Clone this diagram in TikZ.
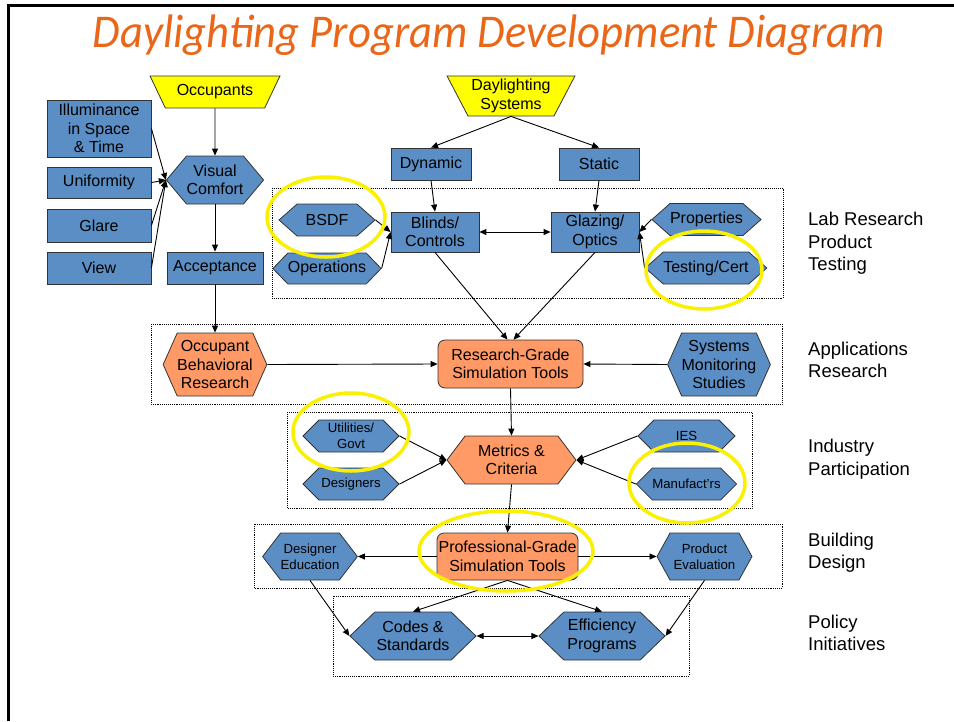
\documentclass[tikz,border=0pt]{standalone}
\usepackage{fontspec}
\setmainfont{Liberation Sans}
\newfontfamily\titlefont{Carlito}
\usetikzlibrary{shapes.geometric,shapes.symbols,arrows.meta}
\definecolor{boxblue}{RGB}{91,142,196}
\definecolor{boxorange}{RGB}{255,153,102}
\definecolor{boxyellow}{RGB}{255,255,0}
\definecolor{titleorange}{RGB}{234,102,24}
\definecolor{ringyellow}{RGB}{250,240,0}
\begin{document}
\begin{tikzpicture}[x=1pt, y=-1pt,
	box/.style={rectangle, draw=black!80, line width=0.8pt, fill=boxblue, inner sep=0pt, align=center, font=\fontsize{16}{18.5}\selectfont},
	hexa/.style={signal, signal to=east and west, draw=black!80, line width=0.8pt, fill=boxblue, inner sep=0pt, align=center, font=\fontsize{16}{18.5}\selectfont},
	small/.style={font=\fontsize{13.2}{16}\selectfont},
	hot/.style={fill=boxorange},
	tool/.style={box, hot, rounded corners=7pt},
	source/.style={trapezium, trapezium stretches=true, shape border rotate=180, draw=black!80, line width=0.8pt, fill=boxyellow, inner sep=0pt, align=center, font=\fontsize{16}{18.5}\selectfont},
	group/.style={densely dotted, line width=0.9pt},
	ring/.style={draw=ringyellow, line width=3.5pt},
	link/.style={line width=0.9pt, -{Triangle[length=7pt,width=6pt]}},
	both/.style={line width=0.9pt, {Triangle[length=7pt,width=6pt]}-{Triangle[length=7pt,width=6pt]}},
	tag/.style={align=left, anchor=west, inner sep=0pt, font=\fontsize{18.5}{22.5}\selectfont}
]
	\useasboundingbox (0, 0) rectangle (954, 721);
	\draw[line width=3pt] (8, 721) to (8, 5) to (954, 5);
	\node[text=titleorange, xscale=0.95, font=\titlefont\itshape\fontsize{47}{52}\selectfont] (title) at (489, 35) {Daylighting Program Development Diagram};
	\draw[group] (272, 188) rectangle (783, 298);
	\draw[group] (151, 324) rectangle (782, 404);
	\draw[group] (287, 412) rectangle (752, 508);
	\draw[group] (254, 524) rectangle (782, 588);
	\draw[group] (333, 596) rectangle (689, 676);
	\node[source, trapezium left angle=51, trapezium right angle=51, minimum width=130pt, minimum height=32pt] (occ) at (215, 92) {Occupants};
	\node[source, trapezium left angle=60, trapezium right angle=60, minimum width=128pt, minimum height=40pt] (dls) at (511, 96) {Daylighting\\Systems};
	\node[box, minimum width=104pt, minimum height=57pt] (illum) at (99, 128.5) {Illuminance\\in Space\\\& Time};
	\node[box, minimum width=104pt, minimum height=31pt] (unif) at (99, 182.5) {Uniformity};
	\node[box, minimum width=104pt, minimum height=33pt] (glare) at (99, 225.5) {Glare};
	\node[box, minimum width=104pt, minimum height=32pt] (view) at (99, 268) {View};
	\node[hexa, signal pointer angle=100, minimum width=96pt, minimum height=48pt] (vis) at (215, 180) {Visual\\Comfort};
	\node[box, minimum width=96pt, minimum height=32pt] (acc) at (215, 268) {Acceptance};
	\node[box, minimum width=80pt, minimum height=32pt] (dyn) at (431, 164) {Dynamic};
	\node[box, minimum width=80pt, minimum height=32pt] (stat) at (599, 164) {Static};
	\node[box, minimum width=88pt, minimum height=40pt] (blinds) at (435, 232) {Blinds/\\Controls};
	\node[box, minimum width=88pt, minimum height=40pt] (glaz) at (595, 232) {Glazing/\\Optics};
	\node[hexa, signal pointer angle=83, minimum width=96pt, minimum height=32pt] (bsdf) at (327, 220) {BSDF};
	\node[hexa, signal pointer angle=92, minimum width=96pt, minimum height=31pt] (oper) at (327, 268.5) {Operations};
	\node[hexa, signal pointer angle=83, minimum width=103pt, minimum height=32pt] (prop) at (706.5, 219.5) {Properties};
	\node[hexa, signal pointer angle=83, minimum width=104pt, minimum height=32pt] (test) at (706, 268) {Testing/Cert};
	\node[hexa, hot, signal pointer angle=132, minimum width=96pt, minimum height=63pt] (obr) at (215, 364.5) {Occupant\\Behavioral\\Research};
	\node[tool, minimum width=145pt, minimum height=48pt] (rgst) at (510.5, 364) {Research-Grade\\Simulation Tools};
	\node[hexa, signal pointer angle=132, minimum width=98pt, minimum height=63pt] (sms) at (719, 364.5) {Systems\\Monitoring\\Studies};
	\node[hexa, small, signal pointer angle=90, minimum width=96pt, minimum height=32pt] (util) at (351, 436) {Utilities/\\Govt};
	\node[hexa, small, signal pointer angle=90, minimum width=96pt, minimum height=32pt] (des) at (351, 484) {Designers};
	\node[hexa, hot, signal pointer angle=106, minimum width=129pt, minimum height=48pt] (met) at (511.5, 460) {Metrics \&\\Criteria};
	\node[hexa, small, signal pointer angle=90, minimum width=97pt, minimum height=32pt] (ies) at (686.5, 436) {IES};
	\node[hexa, small, signal pointer angle=90, minimum width=97pt, minimum height=32pt] (manu) at (686.5, 484) {Manufact'rs};
	\node[hexa, small, signal pointer angle=105, minimum width=94pt, minimum height=47pt] (dedu) at (310, 556.5) {Designer\\Education};
	\node[tool, minimum width=141pt, minimum height=47pt] (pgst) at (507.5, 556.5) {Professional-Grade\\Simulation Tools};
	\node[hexa, small, signal pointer angle=122, minimum width=95pt, minimum height=47pt] (peval) at (704.5, 556.5) {Product\\Evaluation};
	\node[hexa, signal pointer angle=88, minimum width=126pt, minimum height=48pt] (codes) at (413, 636) {Codes \&\\Standards};
	\node[hexa, signal pointer angle=88, minimum width=126pt, minimum height=48pt] (eff) at (602, 636) {Efficiency\\Programs};
	\node[tag] (lab) at (808, 243.5) {Lab Research\\Product\\Testing};
	\node[tag] (appl) at (808, 360) {Applications\\Research};
	\node[tag] (indus) at (808, 459) {Industry\\Participation};
	\node[tag] (bldg) at (808, 552.5) {Building\\Design};
	\node[tag] (policy) at (808, 633) {Policy\\Initiatives};
	\draw[link] (occ.south) to (vis.north);
	\draw[link] (illum.east) to (vis.west);
	\draw[link] (unif.east) to (vis.west);
	\draw[link] (glare.east) to (vis.west);
	\draw[link] (view.east) to (vis.west);
	\draw[link] (vis.south) to (acc.north);
	\draw[link] (acc.south) to (obr.north);
	\draw[link] (dls.south) to (dyn.north);
	\draw[link] (dls.south) to (stat.north);
	\draw[link] (dyn.south) to (blinds.north);
	\draw[link] (stat.south) to (glaz.north);
	\draw[both] (blinds.east) to (glaz.west);
	\draw[link] (bsdf.east) to (blinds.west);
	\draw[link] (oper.east) to (blinds.west);
	\draw[link] (prop.west) to (glaz.east);
	\draw[link] (test.west) to (glaz.east);
	\draw[link] (blinds.south) to ([xshift=-3pt]rgst.north);
	\draw[link] (glaz.south) to ([xshift=3pt]rgst.north);
	\draw[link] (obr.east) to (rgst.west);
	\draw[link] (sms.west) to (rgst.east);
	\draw[link] (rgst.south) to (met.north);
	\draw[link] (util.east) to (met.west);
	\draw[link] (des.east) to (met.west);
	\draw[link] (ies.west) to (met.east);
	\draw[link] (manu.west) to (met.east);
	\draw[link] (met.south) to (pgst.north);
	\draw[link] (pgst.west) to (dedu.east);
	\draw[link] (pgst.east) to (peval.west);
	\draw[link] (pgst.south) to (codes.north);
	\draw[link] (pgst.south) to (eff.north);
	\draw[both] (codes.east) to (eff.west);
	\draw[link] (dedu.south) to (codes.west);
	\draw[link] (peval.south) to (eff.east);
	\draw[ring] (326, 217) ellipse [x radius=59pt, y radius=40pt];
	\draw[ring] (704, 270) ellipse [x radius=58pt, y radius=39pt];
	\draw[ring] (351, 432) ellipse [x radius=58pt, y radius=39pt];
	\draw[ring] (687, 483) ellipse [x radius=58pt, y radius=40pt];
	\draw[ring] (506, 551) ellipse [x radius=87pt, y radius=40pt];
\end{tikzpicture}
\end{document}
